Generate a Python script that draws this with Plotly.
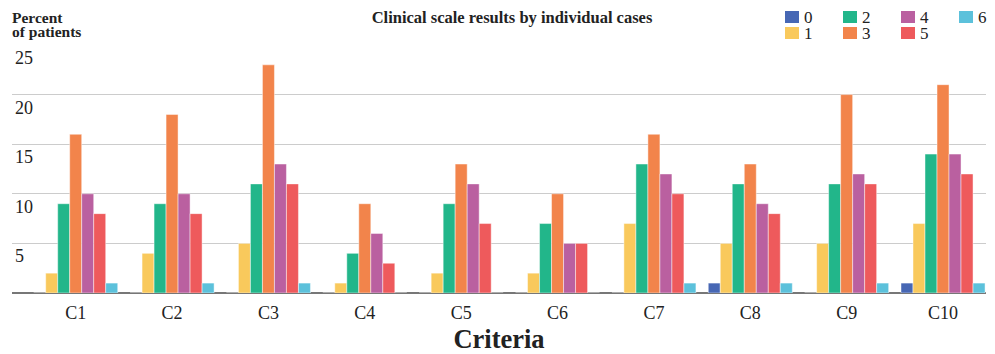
import plotly.graph_objects as go

# ---- data ----
categories = ["C1", "C2", "C3", "C4", "C5", "C6", "C7", "C8", "C9", "C10"]
series_names = ["0", "1", "2", "3", "4", "5", "6"]
s0 = [0, 0, 0, 0, 0, 0, 0, 1, 0, 1]
s1 = [2, 4, 5, 1, 2, 2, 7, 5, 5, 7]
s2 = [9, 9, 11, 4, 9, 7, 13, 11, 11, 14]
s3 = [16, 18, 23, 9, 13, 10, 16, 13, 20, 21]
s4 = [10, 10, 13, 6, 11, 5, 12, 9, 12, 14]
s5 = [8, 8, 11, 3, 7, 5, 10, 8, 11, 12]
s6 = [1, 1, 1, 0, 0, 0, 1, 1, 1, 1]
series_values = [s0, s1, s2, s3, s4, s5, s6]
colors = ["#4767b4", "#f9c95c", "#22b68a", "#f2844b", "#ba60a0", "#ee5a5c", "#5cc1db"]
y_ticks = [5, 10, 15, 20, 25]

# ---- layout geometry (screen pixels; page body has an 8px margin) ----
OFF = 8
W, H = 995 - OFF, 354 - OFF
PLOT_L, PLOT_R, PLOT_T, PLOT_B = 12, 986, 45, 293  # screen coords
ML = PLOT_L - OFF
MT = PLOT_T - OFF
MR = W - (PLOT_R - OFF)
MB = H - (PLOT_B - OFF)
PW = W - ML - MR
PH = H - MT - MB
FONT = "Liberation Serif"


def px_x(sx):
    return (sx - PLOT_L) / PW


def px_y(sy):
    return 1 + (PLOT_T - sy) / PH


fig = go.Figure()
for name, vals, col in zip(series_names, series_values, colors):
    fig.add_trace(go.Bar(
        x=categories, y=vals, name=name,
        marker=dict(color=col, line=dict(color="rgba(255,255,255,0.45)", width=1)),
        showlegend=False,
    ))

# manual two-row legend (column-major like the reference)
col_x = [785, 843, 901, 959]
row_y = [11, 27]
for i, (name, col) in enumerate(zip(series_names, colors)):
    c, r = i // 2, i % 2
    x0 = col_x[c]
    y0 = row_y[r]
    fig.add_shape(type="rect", xref="paper", yref="paper",
                  x0=px_x(x0), x1=px_x(x0 + 14), y0=px_y(y0), y1=px_y(y0 + 12),
                  fillcolor=col, line=dict(width=0))
    fig.add_annotation(xref="paper", yref="paper", x=px_x(x0 + 18), y=px_y(y0 + 6),
                       xanchor="left", yanchor="middle", text=name, showarrow=False,
                       borderpad=0,
                       font=dict(family=FONT, size=17, color="#222"))

fig.add_annotation(xref="paper", yref="paper", x=px_x(11), y=px_y(17.5), xanchor="left",
                   yanchor="middle", text="<b>Percent</b>", showarrow=False,
                   borderpad=0,
                   font=dict(family=FONT, size=15.5, color="#222"))
fig.add_annotation(xref="paper", yref="paper", x=px_x(11), y=px_y(31.5), xanchor="left",
                   yanchor="middle", text="<b>of patients</b>", showarrow=False,
                   borderpad=0,
                   font=dict(family=FONT, size=15.5, color="#222"))

fig.update_layout(
    width=W, height=H,
    margin=dict(l=ML, r=MR, t=MT, b=MB),
    paper_bgcolor="white", plot_bgcolor="white",
    barmode="group", bargap=0.128, bargroupgap=0,
    title=dict(text="<b>Clinical scale results by individual cases</b>",
               x=(512 - OFF) / W, xref="container", xanchor="center",
               y=1 - (17 - OFF) / H, yref="container", yanchor="middle",
               font=dict(family=FONT, size=16.5, color="#222")),
    font=dict(family=FONT, color="#222"),
    xaxis=dict(
        type="category", range=[-0.661, 9.446],
        showgrid=False, showline=False,
        ticks="outside", ticklen=3, tickcolor="rgba(0,0,0,0)",
        tickfont=dict(family=FONT, size=18, color="#222"),
        title=dict(text="<b>Criteria</b>", font=dict(family=FONT, size=26.5, color="#222"),
                   standoff=8),
        automargin=False,
    ),
    yaxis=dict(
        range=[0, 25], tickvals=y_ticks,
        showgrid=True, gridcolor="#cccccc", gridwidth=1,
        zeroline=True, zerolinecolor="#777777", zerolinewidth=1.5,
        ticklabelposition="inside bottom",
        tickfont=dict(family=FONT, size=18, color="#222"),
        showline=False, ticks="", automargin=False,
    ),
)

fig.write_html("out.html")
